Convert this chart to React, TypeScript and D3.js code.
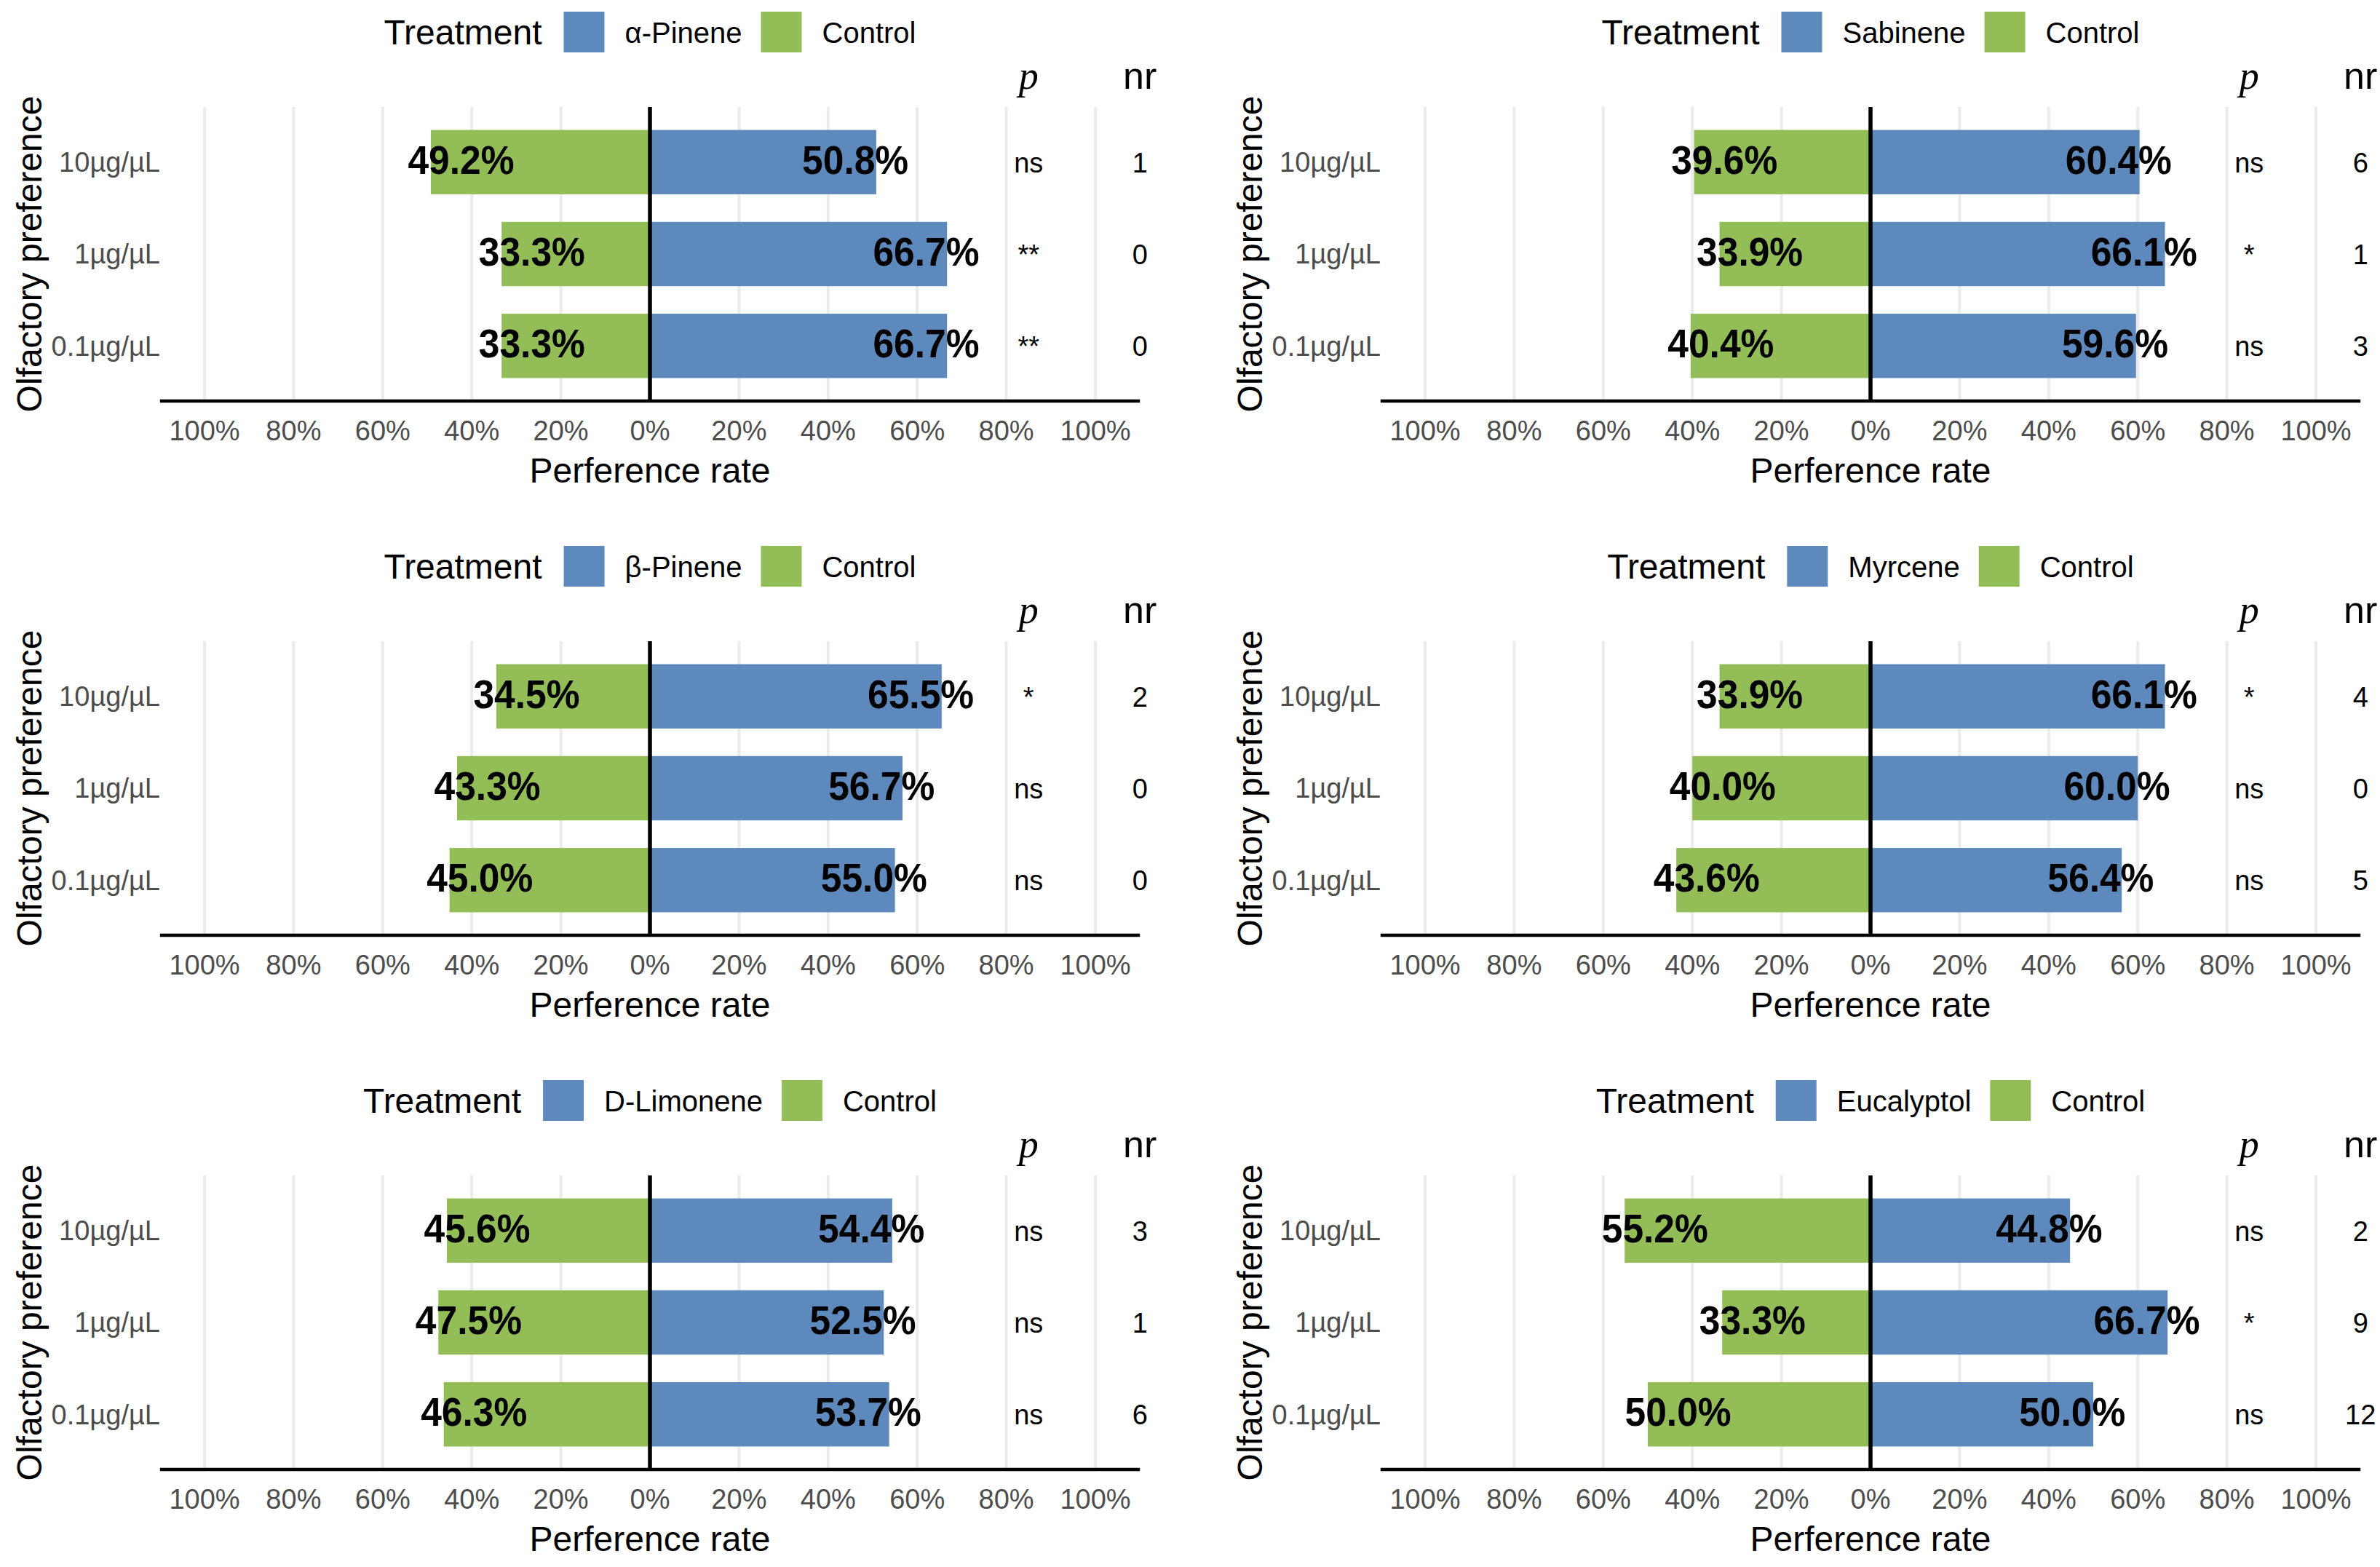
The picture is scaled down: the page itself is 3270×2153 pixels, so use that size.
import { useEffect, useRef } from "react";
import * as d3 from "d3";

// concentration levels (top to bottom)
const doses = ["10µg/µL", "1µg/µL", "0.1µg/µL"];
const treatments = ["α-Pinene", "Sabinene", "β-Pinene", "Myrcene", "D-Limonene", "Eucalyptol"];

// preference rate (%) per treatment, same order as doses
const treatedRate = [
  [50.8, 66.7, 66.7],
  [60.4, 66.1, 59.6],
  [65.5, 56.7, 55.0],
  [66.1, 60.0, 56.4],
  [54.4, 52.5, 53.7],
  [44.8, 66.7, 50.0],
];
const controlRate = [
  [49.2, 33.3, 33.3],
  [39.6, 33.9, 40.4],
  [34.5, 43.3, 45.0],
  [33.9, 40.0, 43.6],
  [45.6, 47.5, 46.3],
  [55.2, 33.3, 50.0],
];
const pSig = [
  ["ns", "**", "**"],
  ["ns", "*", "ns"],
  ["*", "ns", "ns"],
  ["*", "ns", "ns"],
  ["ns", "ns", "ns"],
  ["ns", "*", "ns"],
];
const nrCount = [
  [1, 0, 0],
  [6, 1, 3],
  [2, 0, 0],
  [4, 0, 5],
  [3, 1, 6],
  [2, 9, 12],
];
const xTicks = [-1, -0.8, -0.6, -0.4, -0.2, 0, 0.2, 0.4, 0.6, 0.8, 1];

const W = 3270;
const H = 2153;
const BLUE = "#5e89bc";
const GREEN = "#93be57";
const SANS = "'Liberation Sans', Arial, Helvetica, sans-serif";

export default function App() {
  const ref = useRef<SVGSVGElement | null>(null);

  useEffect(() => {
    if (!ref.current) return;
    const svg = d3.select(ref.current);
    svg.selectAll("*").remove();
    svg.append("rect").attr("width", W).attr("height", H).attr("fill", "#fff");

    const top = 147;
    const bottom = 551;
    const x = d3.scaleLinear().domain([-1.1, 1.1]).range([219.8, 1566.2]);
    const y = d3.scalePoint<string>().domain(doses).range([top, bottom]).padding(0.6);
    const barH = y.step() * 0.7;

    treatments.forEach((name, i) => {
      const col = i % 2;
      const row = Math.floor(i / 2);
      const g = svg.append("g")
        .attr("transform", `translate(${col * 1677},${row * 734})`)
        .style("font-family", SANS);

      // grid
      g.append("g").selectAll("line").data(xTicks).join("line")
        .attr("x1", d => x(d)).attr("x2", d => x(d))
        .attr("y1", top).attr("y2", bottom)
        .attr("stroke", "#ebebeb").attr("stroke-width", 4);

      // bars
      const rows = doses.map((d, j) => ({
        dose: d, t: treatedRate[i][j] / 100, c: controlRate[i][j] / 100,
        p: pSig[i][j], nr: nrCount[i][j],
      }));

      g.append("g").selectAll("rect").data(rows).join("rect")
        .attr("x", d => x(-d.c)).attr("width", d => x(0) - x(-d.c))
        .attr("y", d => (y(d.dose) as number) - barH / 2).attr("height", barH)
        .attr("fill", GREEN);
      g.append("g").selectAll("rect").data(rows).join("rect")
        .attr("x", x(0)).attr("width", d => x(d.t) - x(0))
        .attr("y", d => (y(d.dose) as number) - barH / 2).attr("height", barH)
        .attr("fill", BLUE);

      // zero line and x axis line
      g.append("line").attr("x1", x(0)).attr("x2", x(0)).attr("y1", top).attr("y2", bottom)
        .attr("stroke", "#000").attr("stroke-width", 5.5);
      g.append("line").attr("x1", x(-1.1)).attr("x2", x(1.1)).attr("y1", bottom).attr("y2", bottom)
        .attr("stroke", "#000").attr("stroke-width", 4.5);

      // x tick labels
      g.append("g").selectAll("text").data(xTicks).join("text")
        .attr("x", d => x(d)).attr("y", 605)
        .attr("text-anchor", "middle").attr("font-size", 38).attr("fill", "#4d4d4d")
        .text(d => `${Math.round(Math.abs(d) * 100)}%`);

      // y tick labels
      g.append("g").selectAll("text").data(doses).join("text")
        .attr("x", 220).attr("y", d => y(d) as number).attr("dy", "0.35em")
        .attr("text-anchor", "end").attr("font-size", 38).attr("fill", "#4d4d4d")
        .text(d => d);

      // axis titles
      g.append("text").attr("x", x(0)).attr("y", 663).attr("text-anchor", "middle")
        .attr("font-size", 48).attr("fill", "#000").text("Perference rate");
      g.append("text").attr("transform", `translate(57,${(top + bottom) / 2}) rotate(-90)`)
        .attr("text-anchor", "middle").attr("font-size", 48).attr("fill", "#000")
        .text("Olfactory preference");

      // bar value labels (slightly condensed bold)
      const labels = g.append("g").attr("font-weight", "bold").attr("font-size", 56).attr("fill", "#000");
      const addLabel = (xx: number, yy: number, txt: string) => {
        const t = labels.append("text").attr("x", xx).attr("y", yy).attr("dy", "0.285em")
          .attr("text-anchor", "middle").text(txt);
        const w = (t.node() as SVGTextElement).getComputedTextLength();
        t.attr("textLength", w * 0.92).attr("lengthAdjust", "spacingAndGlyphs");
      };
      rows.forEach(d => {
        addLabel(x(-d.c + 0.068), y(d.dose) as number, `${(d.c * 100).toFixed(1)}%`);
        addLabel(x(d.t - 0.047), y(d.dose) as number, `${(d.t * 100).toFixed(1)}%`);
      });

      // p and nr columns
      g.append("text").attr("x", x(0.85)).attr("y", 122).attr("text-anchor", "middle")
        .attr("font-family", "'Liberation Serif', 'Times New Roman', serif")
        .attr("font-style", "italic").attr("font-size", 54).text("p");
      g.append("text").attr("x", x(1.1)).attr("y", 122).attr("text-anchor", "middle")
        .attr("font-size", 52).text("nr");
      g.append("g").selectAll("text").data(rows).join("text")
        .attr("x", x(0.85)).attr("y", d => (y(d.dose) as number) + 14)
        .attr("text-anchor", "middle").attr("font-size", 38).text(d => d.p);
      g.append("g").selectAll("text").data(rows).join("text")
        .attr("x", x(1.1)).attr("y", d => (y(d.dose) as number) + 14)
        .attr("text-anchor", "middle").attr("font-size", 38).text(d => String(d.nr));

      // legend, centred on the zero line
      const lg = g.append("g");
      const tTitle = lg.append("text").attr("y", 61).attr("font-size", 48).text("Treatment");
      const tName = lg.append("text").attr("y", 59).attr("font-size", 40).text(name);
      const tCtrl = lg.append("text").attr("y", 59).attr("font-size", 40).text("Control");
      const wT = (tTitle.node() as SVGTextElement).getComputedTextLength();
      const wN = (tName.node() as SVGTextElement).getComputedTextLength();
      const wC = (tCtrl.node() as SVGTextElement).getComputedTextLength();
      const key = 56;
      const total = wT + 30 + key + 28 + wN + 26 + key + 28 + wC;
      let cx = x(0) - total / 2;
      tTitle.attr("x", cx);
      cx += wT + 30;
      lg.append("rect").attr("x", cx).attr("y", 16).attr("width", key).attr("height", key).attr("fill", BLUE);
      cx += key + 28;
      tName.attr("x", cx);
      cx += wN + 26;
      lg.append("rect").attr("x", cx).attr("y", 16).attr("width", key).attr("height", key).attr("fill", GREEN);
      cx += key + 28;
      tCtrl.attr("x", cx);
    });
  }, []);

  return (
    <svg
      ref={ref}
      width={W}
      height={H}
      style={{ position: "absolute", left: 0, top: 0, display: "block" }}
    />
  );
}
